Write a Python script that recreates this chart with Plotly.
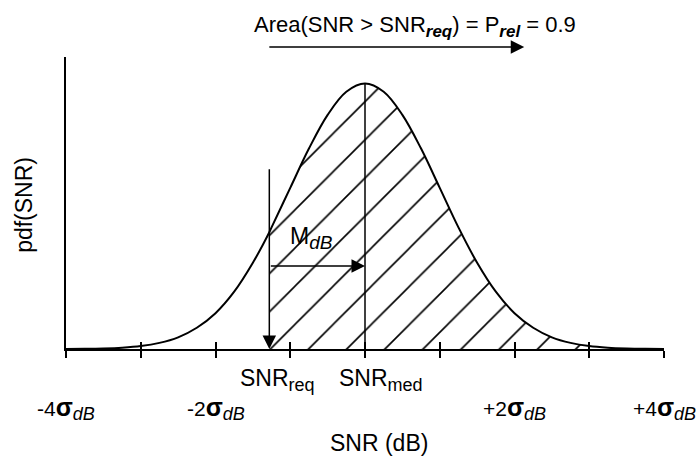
import plotly.graph_objects as go

# ---- data (x in units of sigma_dB, y relative pdf height) ----
x_sigma = [-4.0, -3.75, -3.5, -3.25, -3.0, -2.75, -2.5, -2.25, -2.0, -1.75, -1.5, -1.28,
           -1.25, -1.0, -0.75, -0.5, -0.25, 0.0, 0.25, 0.5, 0.75, 1.0, 1.25, 1.5, 1.75,
           2.0, 2.25, 2.5, 2.75, 3.0, 3.25, 3.5, 3.75, 4.0]
pdf_rel = [0.0003, 0.0009, 0.0022, 0.0051, 0.011, 0.023, 0.044, 0.080, 0.135, 0.216, 0.325, 0.44,
           0.458, 0.607, 0.755, 0.882, 0.969, 1.0, 0.969, 0.882, 0.755, 0.607, 0.458, 0.325, 0.216,
           0.135, 0.080, 0.044, 0.023, 0.011, 0.0051, 0.0022, 0.0009, 0.0003]

snr_req = -1.28
snr_med = 0.0
tick_sigma = [-4, -3, -2, -1, 0, 1, 2, 3, 4]
sigma_labels = ["-4", "-2", "+2", "+4"]
sigma_label_pos = [-4, -2, 2, 4]

FONT = "Liberation Sans, Arial, Helvetica, sans-serif"


def sub(t, size, italic=False, bold=False):
    inner = t
    if italic:
        inner = "<i>" + inner + "</i>"
    if bold:
        inner = "<b>" + inner + "</b>"
    return "<sub><span style=\"font-size:%dpx\">%s</span></sub>" % (size, inner)


hatch_x = [x for x in x_sigma if x >= snr_req]
hatch_y = [y for x, y in zip(x_sigma, pdf_rel) if x >= snr_req]

fig = go.Figure()
fig.add_trace(go.Scatter(
    x=hatch_x, y=hatch_y, mode="lines", line=dict(width=0, color="black", shape="spline"),
    fill="tozeroy", fillcolor="white",
    fillpattern=dict(shape="/", size=27, solidity=0.06, fgcolor="black", fgopacity=1, bgcolor="white"),
    hoverinfo="skip", showlegend=False))
fig.add_trace(go.Scatter(
    x=x_sigma, y=pdf_rel, mode="lines", line=dict(width=2, color="black", shape="spline"),
    showlegend=False))
fig.add_trace(go.Scatter(x=[tick_sigma[0], tick_sigma[-1]], y=[0, 0], xaxis="x2", mode="lines",
                         line=dict(width=0), hoverinfo="skip", showlegend=False))

peak = max(pdf_rel)
fig.add_shape(type="line", x0=snr_med, x1=snr_med, y0=0, y1=peak, xref="x", yref="y",
              line=dict(color="black", width=1.5))

ann = []
ARW = dict(showarrow=True, arrowhead=2, arrowsize=1.8, arrowwidth=1.5, arrowcolor="black", text="")
# down arrow at SNR_req
ann.append(dict(x=snr_req, y=0.0, ax=snr_req, ay=0.683, xref="x", yref="y", axref="x", ayref="y", **ARW))
# M_dB arrow
ann.append(dict(x=snr_med, y=0.313, ax=snr_req, ay=0.313, xref="x", yref="y", axref="x", ayref="y", **ARW))
ann.append(dict(x=-0.99, y=0.457, xref="x", yref="y", xanchor="left", yanchor="top", yshift=7, xshift=-3,
                showarrow=False, text="M" + sub("dB", 19, italic=True),
                font=dict(family=FONT, size=23, color="black")))
# top arrow (above plot area)
ann.append(dict(x=2.13, y=1.034, ax=-1.30, ay=0, xref="x", yref="paper", axref="x", ayref="pixel", **ARW))
ann.append(dict(x=0.67, y=1.0, xref="x", yref="paper", yanchor="top", yshift=47, showarrow=False,
                text="Area(SNR &gt; SNR" + sub("req", 17, italic=True, bold=True) + ") = P"
                     + sub("rel", 17, italic=True, bold=True) + " = 0.9",
                font=dict(family=FONT, size=22, color="black")))
# x labels
ann.append(dict(x=snr_req + 0.116, y=0, xref="x", yref="y", yanchor="top", yshift=-14, showarrow=False,
                text="SNR" + sub("req", 18), font=dict(family=FONT, size=23, color="black")))
ann.append(dict(x=snr_med + 0.214, y=0, xref="x", yref="y", yanchor="top", yshift=-14, showarrow=False,
                text="SNR" + sub("med", 18), font=dict(family=FONT, size=23, color="black")))
for lab, pos in zip(sigma_labels, sigma_label_pos):
    ann.append(dict(x=pos, y=0, xref="x", yref="y", yanchor="top", yshift=-42, showarrow=False,
                    text=lab + "<b><span style=\"font-size:25px\">σ</span></b>" + sub("dB", 18, italic=True),
                    font=dict(family=FONT, size=21, color="black")))
ann.append(dict(x=0.187, y=0, xref="x", yref="y", yanchor="top", yshift=-79, showarrow=False,
                text="SNR (dB)", font=dict(family=FONT, size=23, color="black")))
ann.append(dict(x=-4, y=0.543, xref="x", yref="y", xshift=-42, showarrow=False, textangle=-90,
                text="pdf(SNR)", font=dict(family=FONT, size=23, color="black")))

fig.update_layout(
    width=697, height=457,
    margin=dict(l=66, r=33, t=57, b=108),
    plot_bgcolor="white", paper_bgcolor="white",
    showlegend=False,
    annotations=ann,
    xaxis=dict(range=[-4, 4], tickvals=tick_sigma, ticks="outside", ticklen=7, tickwidth=1.5,
               tickcolor="black", showticklabels=False, showline=True, linecolor="black", linewidth=2,
               showgrid=False, zeroline=False),
    xaxis2=dict(range=[-4, 4], overlaying="x", anchor="y", side="bottom", tickvals=tick_sigma,
                ticks="inside", ticklen=7, tickwidth=1.5, tickcolor="black", showticklabels=False,
                showline=False, showgrid=False, zeroline=False),
    yaxis=dict(range=[0, 1.10], showline=True, linecolor="black", linewidth=2, ticks="",
               showticklabels=False, showgrid=False, zeroline=False),
)

fig.write_html("out.html", config={"displayModeBar": False},
               post_script="document.body.style.margin='0px';")
